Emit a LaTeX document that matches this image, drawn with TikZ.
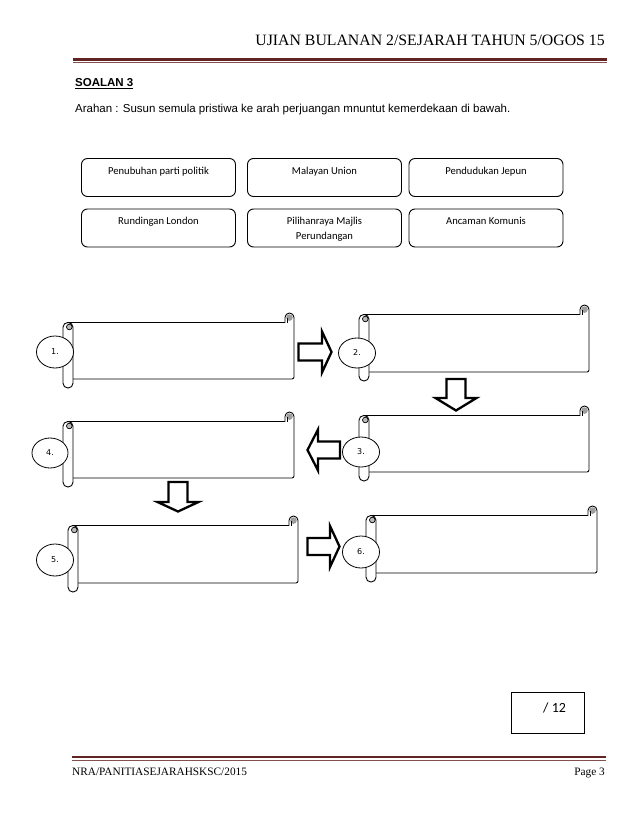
\documentclass[tikz,border=0pt]{standalone}
\usepackage{fontspec}
\setmainfont{Liberation Serif}
\newfontfamily\arialf{Liberation Sans}
\newfontfamily\calf{Carlito}
\newfontfamily\verdf{DejaVu Sans}
\usetikzlibrary{shapes.geometric}
\definecolor{maroonline}{HTML}{622423}
\definecolor{curlgray}{gray}{0.62}
\tikzset{
  choice/.style={draw, line width=0.9pt, rounded corners=6pt, minimum width=154pt, minimum height=38pt, inner sep=0pt},
  choicetext/.style={font=\calf\fontsize{10.6}{13}\selectfont, anchor=base, inner sep=0pt},
  numell/.style={ellipse, draw, line width=0.8pt, fill=white, minimum width=37pt, minimum height=31pt, inner sep=0pt, font=\verdf\fontsize{8}{10}\selectfont},
  scrollline/.style={line width=0.9pt, line join=round},
  blockarrow/.style={draw, line width=2.3pt, fill=white, line join=miter},
  plaintext/.style={inner sep=0pt},
}
% scroll: left, top, right, bottom (pixel coordinates)
\newcommand\myscroll[4]{%
  \draw[scrollline, fill=white] (#1+5,#2+9.5) -- (#3-9,#2+9.5) -- (#3-9,#2+4.5)
     arc[start angle=180, end angle=360, radius=4.5]
     [rounded corners=2pt] -- (#3,#4-9) -- (#1+5,#4-9) [sharp corners] -- cycle;
  \fill[curlgray] (#3-4.5,#2+4.6) circle[radius=3.3];
  \draw[line width=0.7pt] (#3-6.8,#2+5) -- (#3-6.8,#2+9.5);
  \draw[scrollline, fill=white, rounded corners=4.8pt] (#1,#2+9.5) rectangle (#1+10,#4);
  \draw[line width=0.7pt, fill=curlgray!70] (#1+6.3,#2+14) circle[radius=2.8];
}
% horizontal block arrow: shaft start x, head base x, tip x, centre y
\newcommand\harrow[4]{%
  \draw[blockarrow] (#1,#4-8.5) -- (#2,#4-8.5) -- (#2,#4-20.5) -- (#3,#4) -- (#2,#4+20.5) -- (#2,#4+8.5) -- (#1,#4+8.5) -- cycle;}
% vertical block arrow: shaft start y, head base y, tip y, centre x
\newcommand\varrow[4]{%
  \draw[blockarrow] (#4-9.5,#1) -- (#4-9.5,#2) -- (#4-20.5,#2) -- (#4,#3) -- (#4+20.5,#2) -- (#4+9.5,#2) -- (#4+9.5,#1) -- cycle;}
\begin{document}
\begin{tikzpicture}[x=1pt,y=-1pt]
\fill[white] (0,0) rectangle (638,826);
\useasboundingbox (0,0) rectangle (638,826);

% header
\node[plaintext, anchor=base east, font=\fontsize{15.8}{18}\selectfont] (hdr) at (605,46) {UJIAN BULANAN 2/SEJARAH TAHUN 5/OGOS 15};
\draw[maroonline, line width=2.6pt] (73,59.5) -- (607,59.5);
\draw[maroonline!80, line width=0.9pt] (73,62.3) -- (607,62.3);

\node[plaintext, anchor=base west, font=\arialf\bfseries\fontsize{11.5}{14}\selectfont] (soal) at (75,86.5) {\underline{SOALAN 3}};
\node[plaintext, anchor=base west, font=\arialf\fontsize{11.5}{13}\selectfont] (arahan) at (75,113) {Arahan : Susun semula pristiwa ke arah perjuangan mnuntut kemerdekaan di bawah.};

% choice boxes
\node[choice] (c1) at (158.5,177.5) {};
\node[choice] (c2) at (324.5,177.5) {};
\node[choice] (c3) at (486,177.5) {};
\node[choice] (c4) at (158.5,228) {};
\node[choice] (c5) at (324.5,228) {};
\node[choice] (c6) at (486,228) {};
\node[choicetext] (t1) at (158.5,175) {Penubuhan parti politik};
\node[choicetext] (t2) at (324.5,175) {Malayan Union};
\node[choicetext] (t3) at (486,175) {Pendudukan Jepun};
\node[choicetext] (t4) at (158.5,225) {Rundingan London};
\node[choicetext] (t5) at (324.5,225) {Pilihanraya Majlis};
\node[choicetext] (t5b) at (324.5,240) {Perundangan};
\node[choicetext] (t6) at (486,225) {Ancaman Komunis};

% scrolls
\myscroll{63}{313}{294}{388}
\myscroll{359}{305}{589}{381}
\myscroll{359}{406}{589}{481}
\myscroll{63}{412}{294}{487}
\myscroll{68}{516}{298}{592}
\myscroll{366}{506}{597}{582}

% number ellipses
\node[numell, minimum height=32pt] (n1) at (55,352) {1.};
\node[numell, minimum height=30pt] (n2) at (357,353) {2.};
\node[numell, minimum height=30pt] (n3) at (361,452) {3.};
\node[numell, minimum width=36pt, minimum height=30pt] (n4) at (50,453) {4.};
\node[numell, minimum height=32pt] (n5) at (55,560) {5.};
\node[numell, minimum height=32pt] (n6) at (361,552) {6.};

% block arrows
\harrow{298.5}{322}{331.5}{352}
\varrow{379}{398}{410.5}{456}
\harrow{340}{318}{307.5}{450}
\varrow{482}{502}{511.5}{178}
\harrow{307.5}{330}{339.5}{546.5}

% score box
\node[draw, line width=1pt, minimum width=73pt, minimum height=41pt, inner sep=0pt] (score) at (547.5,712.5) {};
\node[plaintext, anchor=base west, font=\calf\fontsize{14}{16}\selectfont] (scoretext) at (543,712) {/ 12};

% footer
\draw[maroonline, line width=2.8pt] (72,757) -- (606,757);
\draw[maroonline!80, line width=0.9pt] (72,760.3) -- (606,760.3);
\node[plaintext, anchor=base west, font=\fontsize{11.3}{13}\selectfont] (foot) at (72,775) {NRA/PANITIASEJARAHSKSC/2015};
\node[plaintext, anchor=base east, font=\fontsize{11.3}{13}\selectfont] (page) at (605,775) {Page 3};
\end{tikzpicture}
\end{document}
